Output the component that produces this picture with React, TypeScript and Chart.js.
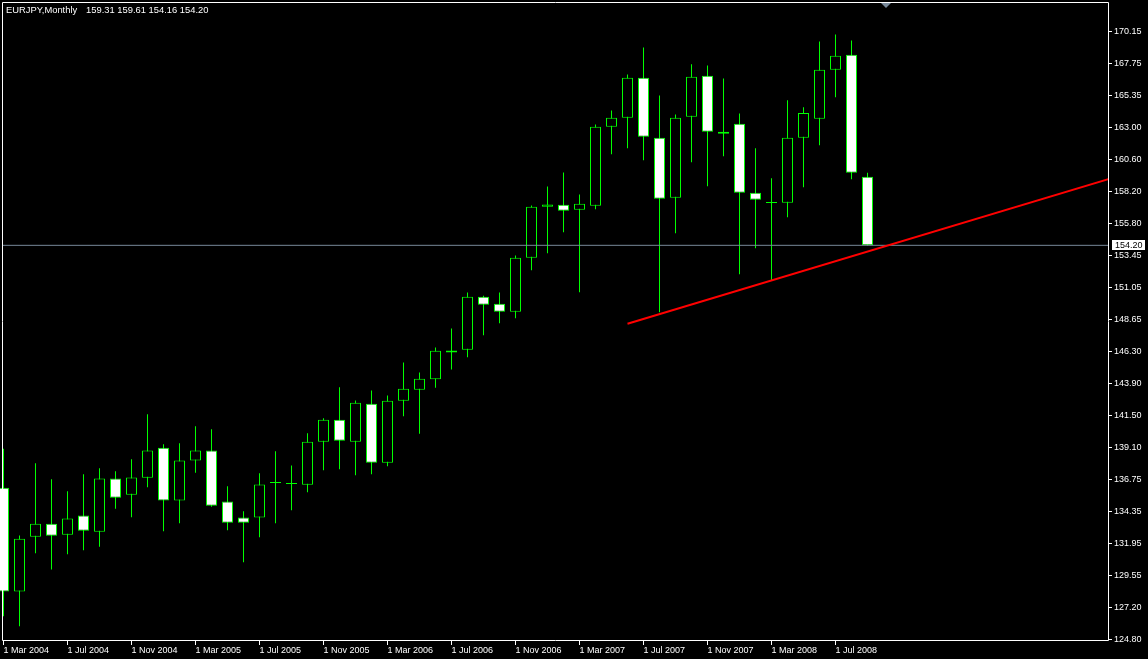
import React, { useEffect, useRef } from "react";
import { Chart, registerables } from "chart.js";

Chart.register(...registerables);

// ---- data (EURJPY monthly, Mar 2004 .. Sep 2008) ----
const candleMonths = [
  "Mar 2004", "Apr 2004", "May 2004", "Jun 2004", "Jul 2004", "Aug 2004", "Sep 2004", "Oct 2004", "Nov 2004", "Dec 2004",
  "Jan 2005", "Feb 2005", "Mar 2005", "Apr 2005", "May 2005", "Jun 2005", "Jul 2005", "Aug 2005", "Sep 2005", "Oct 2005", "Nov 2005", "Dec 2005",
  "Jan 2006", "Feb 2006", "Mar 2006", "Apr 2006", "May 2006", "Jun 2006", "Jul 2006", "Aug 2006", "Sep 2006", "Oct 2006", "Nov 2006", "Dec 2006",
  "Jan 2007", "Feb 2007", "Mar 2007", "Apr 2007", "May 2007", "Jun 2007", "Jul 2007", "Aug 2007", "Sep 2007", "Oct 2007", "Nov 2007", "Dec 2007",
  "Jan 2008", "Feb 2008", "Mar 2008", "Apr 2008", "May 2008", "Jun 2008", "Jul 2008", "Aug 2008", "Sep 2008",
];

const opens = [
  136.11, 128.38, 132.46, 133.43, 132.61, 134.05, 132.83, 136.81, 135.59, 136.86,
  139.10, 135.17, 138.15, 138.90, 135.09, 133.90, 133.90, 136.47, 136.40, 136.34, 139.55, 141.19,
  139.55, 142.38, 137.98, 142.60, 143.42, 144.22, 146.20, 146.41, 150.36, 149.84, 149.24, 153.27,
  157.07, 157.22, 156.85, 157.15, 163.04, 163.71, 166.70, 162.22, 157.75, 163.79, 166.85, 162.67,
  163.26, 158.12, 157.36, 157.37, 162.22, 163.64, 167.29, 168.41, 159.31,
];

const highs = [
  139.02, 132.56, 137.95, 136.76, 135.86, 137.13, 137.58, 137.35, 138.25, 141.60,
  139.37, 139.44, 140.71, 140.49, 136.23, 134.37, 137.20, 138.84, 137.78, 140.19, 141.31, 143.62,
  142.63, 143.37, 143.00, 145.46, 144.72, 146.58, 148.00, 150.68, 150.44, 150.68, 153.44, 157.17,
  158.59, 159.63, 157.99, 163.21, 164.26, 166.94, 168.96, 165.38, 163.96, 167.71, 167.61, 166.64,
  164.03, 161.45, 159.21, 165.03, 164.50, 169.40, 169.93, 169.48, 159.61,
];

const lows = [
  126.54, 125.79, 131.24, 130.02, 131.16, 131.46, 131.71, 134.55, 133.92, 136.16,
  132.88, 133.47, 137.23, 134.70, 132.95, 130.57, 132.43, 133.47, 134.44, 135.79, 137.43, 137.50,
  137.05, 137.13, 137.73, 141.46, 140.14, 143.57, 144.94, 145.86, 147.50, 148.39, 148.77, 152.35,
  153.61, 155.18, 150.70, 156.90, 160.99, 161.45, 160.55, 149.21, 155.10, 160.40, 158.61, 160.85,
  152.05, 153.99, 151.58, 156.30, 158.54, 161.67, 165.25, 159.13, 154.16,
];

const closes = [
  128.38, 132.31, 133.43, 132.53, 133.83, 132.91, 136.81, 135.37, 136.88, 138.90,
  135.17, 138.15, 138.90, 134.77, 133.50, 133.50, 136.36, 136.47, 136.40, 139.55, 141.19, 139.62,
  142.45, 137.98, 142.60, 143.50, 144.24, 146.33, 146.35, 150.36, 149.76, 149.24, 153.27, 157.07,
  157.25, 156.78, 157.30, 163.04, 163.71, 166.70, 162.30, 157.67, 163.71, 166.77, 162.67, 162.52,
  158.12, 157.60, 157.36, 162.22, 164.08, 167.29, 168.34, 159.61, 154.20,
];

const xTickIndex = [0, 4, 8, 12, 16, 20, 24, 28, 32, 36, 40, 44, 48, 52];
const xTickLabels = [
  "1 Mar 2004", "1 Jul 2004", "1 Nov 2004", "1 Mar 2005", "1 Jul 2005", "1 Nov 2005", "1 Mar 2006",
  "1 Jul 2006", "1 Nov 2006", "1 Mar 2007", "1 Jul 2007", "1 Nov 2007", "1 Mar 2008", "1 Jul 2008",
];

const priceTicks = [
  124.8, 127.2, 129.55, 131.95, 134.35, 136.75, 139.1, 141.5, 143.9, 146.3,
  148.65, 151.05, 153.45, 155.8, 158.2, 160.6, 163.0, 165.35, 167.75, 170.15,
];

const trendIndex = [39, 70];
const trendPrice = [148.35, 159.48];
const bidPrice = 154.2;
const symbolTitle = "EURJPY,Monthly";
const lastBarValues = ["159.31", "159.61", "154.16", "154.20"];

const GREEN = "#00ff00";
const FONT = "'Liberation Sans', Arial, sans-serif";

export default function App() {
  const ref = useRef<HTMLCanvasElement | null>(null);

  useEffect(() => {
    document.body.style.margin = "0";
    document.body.style.background = "#000";
    const canvas = ref.current;
    if (!canvas) return;
    const ctx = canvas.getContext("2d");
    if (!ctx) return;

    const bodies = opens.map((o, i) => ({ x: i, y: [o, closes[i]] }));
    const wicks = lows.map((l, i) => ({ x: i, y: [l, highs[i]] }));
    const bodyColors = opens.map((o, i) => (closes[i] < o ? "#ffffff" : "#000000"));

    const decor = {
      id: "mt4decor",
      beforeDraw(chart: any) {
        const c = chart.ctx;
        c.save();
        c.fillStyle = "#000";
        c.fillRect(0, 0, chart.width, chart.height);
        c.restore();
      },
      afterDraw(chart: any) {
        const c = chart.ctx;
        const a = chart.chartArea;
        const ys = chart.scales.y;
        c.save();
        // frame
        c.strokeStyle = "#ffffff";
        c.lineWidth = 1;
        c.beginPath();
        c.moveTo(a.left + 0.5, a.top + 0.5);
        c.lineTo(a.right + 0.5, a.top + 0.5);
        c.moveTo(a.left + 0.5, a.top + 0.5);
        c.lineTo(a.left + 0.5, a.bottom - 0.5);
        c.lineTo(a.right + 0.5, a.bottom - 0.5);
        c.moveTo(a.right + 0.5, a.top + 0.5);
        c.lineTo(a.right + 0.5, a.bottom - 0.5);
        c.stroke();
        // title
        c.fillStyle = "#ffffff";
        c.font = `9.4px ${FONT}`;
        c.textBaseline = "middle";
        c.textAlign = "left";
        c.fillText(symbolTitle, 6, 10.5);
        c.fillText(lastBarValues.join(" "), 86, 10.5);
        // bid price box
        c.font = `9px ${FONT}`;
        const yb = Math.round(ys.getPixelForValue(bidPrice));
        c.fillStyle = "#ffffff";
        c.fillRect(1112, yb - 5, 33, 10);
        c.fillStyle = "#000000";
        c.fillText(bidPrice.toFixed(2), 1115, yb + 0.5);
        // shift marker triangle
        c.fillStyle = "#778899";
        c.beginPath();
        c.moveTo(881, 3);
        c.lineTo(891, 3);
        c.lineTo(886, 8);
        c.closePath();
        c.fill();
        c.restore();
      },
    };

    const chart = new Chart(ctx, {
      type: "bar",
      data: {
        labels: candleMonths,
        datasets: [
          {
            type: "line",
            data: trendIndex.map((x, i) => ({ x, y: trendPrice[i] })),
            borderColor: "#ff0000",
            borderWidth: 2,
            pointRadius: 0,
            clip: 0,
            order: 0,
          } as any,
          {
            type: "line",
            data: [
              { x: -1, y: bidPrice },
              { x: 80, y: bidPrice },
            ],
            borderColor: "#778899",
            borderWidth: 1,
            pointRadius: 0,
            clip: 0,
            order: 1,
          } as any,
          {
            type: "bar",
            data: bodies,
            backgroundColor: bodyColors,
            borderColor: GREEN,
            borderWidth: 1,
            borderSkipped: false,
            barThickness: 11,
            minBarLength: 1,
            inflateAmount: 0,
            grouped: false,
            clip: false,
            order: 2,
          } as any,
          {
            type: "bar",
            data: wicks,
            backgroundColor: GREEN,
            borderWidth: 0,
            barThickness: 1,
            inflateAmount: 0,
            grouped: false,
            order: 3,
          } as any,
        ],
      },
      options: {
        animation: false,
        responsive: false,
        devicePixelRatio: 1,
        layout: { padding: { left: 2, top: 2, right: 0, bottom: 0 } },
        plugins: { legend: { display: false }, tooltip: { enabled: false } },
        scales: {
          x: {
            type: "linear",
            min: -0.09375,
            max: 69.03125,
            offset: false,
            afterBuildTicks: (s: any) => {
              s.ticks = xTickIndex.map((v) => ({ value: v }));
            },
            afterFit: (s: any) => {
              s.height = 18;
              s.paddingLeft = 0;
              s.paddingRight = 0;
            },
            grid: {
              display: true,
              offset: false,
              drawOnChartArea: false,
              drawTicks: true,
              tickLength: 4,
              color: "#ffffff",
              lineWidth: 1,
            },
            border: { display: false },
            ticks: {
              autoSkip: false,
              maxRotation: 0,
              minRotation: 0,
              align: "start",
              color: "#ffffff",
              padding: 0,
              font: { family: FONT, size: 9 },
              callback: (_v: any, i: number) => xTickLabels[i] ?? "",
            },
          },
          y: {
            type: "linear",
            position: "right",
            min: 124.688,
            max: 172.35,
            afterBuildTicks: (s: any) => {
              s.ticks = priceTicks.map((v) => ({ value: v }));
            },
            afterFit: (s: any) => {
              s.width = 40;
              s.paddingTop = 0;
              s.paddingBottom = 0;
            },
            grid: {
              display: true,
              drawOnChartArea: false,
              drawTicks: true,
              tickLength: 4,
              color: "#ffffff",
              lineWidth: 1,
            },
            border: { display: false },
            ticks: {
              autoSkip: false,
              color: "#ffffff",
              padding: 2,
              font: { family: FONT, size: 9 },
              callback: (v: any) => Number(v).toFixed(2),
            },
          },
        },
      } as any,
      plugins: [decor],
    });

    return () => chart.destroy();
  }, []);

  return (
    <div style={{ width: 1148, height: 659, background: "#000" }}>
      <canvas ref={ref} width={1148} height={659} style={{ display: "block" }} />
    </div>
  );
}
